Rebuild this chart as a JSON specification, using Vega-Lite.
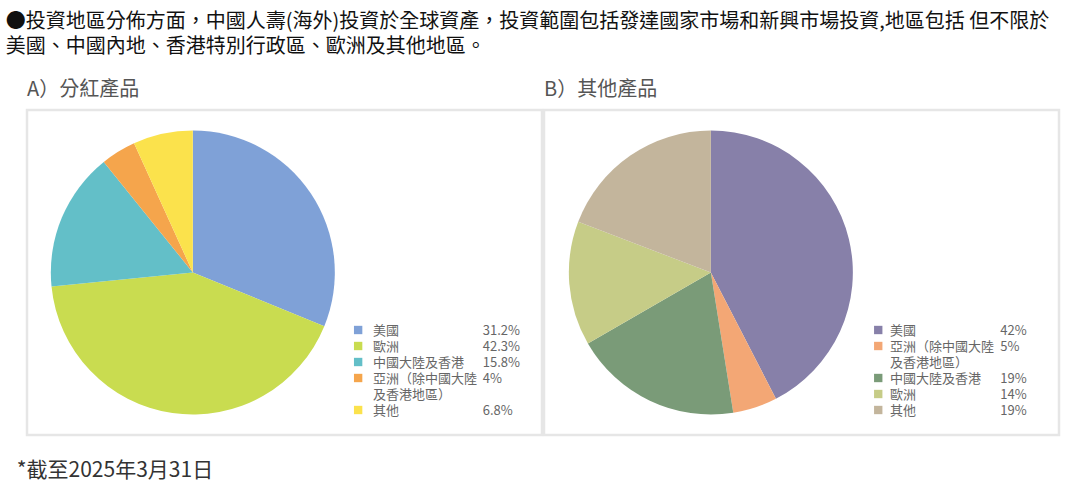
{
  "$schema": "https://vega.github.io/schema/vega-lite/v6.json",
  "padding": {"left": 5, "top": 11, "right": 5, "bottom": 5},
  "config": {
    "font": "Noto Sans CJK TC",
    "view": {"stroke": "#e6e6e6", "strokeWidth": 2.5},
    "axis": {"disable": true}
  },
  "title": {
    "text": ["●投資地區分佈方面，中國人壽(海外)投資於全球資產，投資範圍包括發達國家市場和新興市場投資,地區包括 但不限於", "美國、中國內地、香港特別行政區、歐洲及其他地區。"],
    "anchor": "start", "dx": -11, "fontSize": 20, "fontWeight": "normal", "color": "#111", "lineHeight": 25, "offset": 22
  },
  "vconcat": [
    {
      "title": {"text": "*截至2025年3月31日", "orient": "bottom", "anchor": "start", "dx": -9, "fontSize": 21, "fontWeight": "normal", "color": "#333", "offset": 24},
      "spacing": -3,
      "resolve": {"scale": {"color": "independent", "x": "independent", "y": "independent", "theta": "independent"}},
      "hconcat": [
        {
          "title": {"text": "A）分紅產品", "anchor": "start", "fontSize": 20, "fontWeight": "normal", "color": "#555", "offset": 10},
          "width": 515, "height": 325,
          "data": {"values": [
            {"region": "美國", "value": 31.2, "pct": "31.2%", "order": 1},
            {"region": "歐洲", "value": 42.3, "pct": "42.3%", "order": 2},
            {"region": "中國大陸及香港", "value": 15.8, "pct": "15.8%", "order": 3},
            {"region": "亞洲（除中國大陸\n及香港地區）", "value": 4, "pct": "4%", "order": 4},
            {"region": "其他", "value": 6.8, "pct": "6.8%", "order": 5}
          ]},
          "layer": [
            {
              "mark": {"type": "arc", "outerRadius": 142},
              "encoding": {
                "x": {"datum": 0.322, "type": "quantitative", "scale": {"domain": [0, 1]}},
                "theta": {"field": "value", "type": "quantitative", "stack": true},
                "order": {"field": "order", "type": "quantitative"},
                "color": {"field": "region", "type": "nominal", "legend": null,
                  "scale": {"domain": ["美國", "歐洲", "中國大陸及香港", "亞洲（除中國大陸\n及香港地區）", "其他"],
                            "range": ["#7fa1d7", "#c9dc50", "#63bfc8", "#f5a54c", "#fbe24c"]}}
              }
            },
            {
              "mark": {"type": "point", "shape": "square", "filled": true, "size": 70, "opacity": 1},
              "encoding": {
                "x": {"datum": 0.643, "type": "quantitative"},
                "y": {"field": "region", "type": "ordinal", "scale": {"type": "point", "padding": 0, "domain": ["美國", "歐洲", "中國大陸及香港", "亞洲（除中國大陸\n及香港地區）", "_gap", "其他"], "range": [220, 300]}},
                "color": {"field": "region", "type": "nominal", "legend": null}
              }
            },
            {
              "mark": {"type": "text", "align": "left", "baseline": "alphabetic", "dy": 5, "fontSize": 13, "color": "#666", "lineBreak": "\n", "lineHeight": 16},
              "encoding": {
                "x": {"datum": 0.672, "type": "quantitative"},
                "y": {"field": "region", "type": "ordinal"},
                "text": {"field": "region"}
              }
            },
            {
              "mark": {"type": "text", "align": "left", "baseline": "alphabetic", "dy": 5, "fontSize": 13, "color": "#666"},
              "encoding": {
                "x": {"datum": 0.885, "type": "quantitative"},
                "y": {"field": "region", "type": "ordinal"},
                "text": {"field": "pct"}
              }
            }
          ]
        },
        {
          "title": {"text": "B）其他產品", "anchor": "start", "fontSize": 20, "fontWeight": "normal", "color": "#555", "offset": 10},
          "width": 515, "height": 325,
          "data": {"values": [
            {"region": "美國", "value": 42, "pct": "42%", "order": 1},
            {"region": "亞洲（除中國大陸\n及香港地區）", "value": 5, "pct": "5%", "order": 2},
            {"region": "中國大陸及香港", "value": 19, "pct": "19%", "order": 3},
            {"region": "歐洲", "value": 14, "pct": "14%", "order": 4},
            {"region": "其他", "value": 19, "pct": "19%", "order": 5}
          ]},
          "layer": [
            {
              "mark": {"type": "arc", "outerRadius": 142},
              "encoding": {
                "x": {"datum": 0.324, "type": "quantitative", "scale": {"domain": [0, 1]}},
                "theta": {"field": "value", "type": "quantitative", "stack": true},
                "order": {"field": "order", "type": "quantitative"},
                "color": {"field": "region", "type": "nominal", "legend": null,
                  "scale": {"domain": ["美國", "亞洲（除中國大陸\n及香港地區）", "中國大陸及香港", "歐洲", "其他"],
                            "range": ["#8780a9", "#f3a775", "#7a9b78", "#c6cc87", "#c3b59c"]}}
              }
            },
            {
              "mark": {"type": "point", "shape": "square", "filled": true, "size": 70, "opacity": 1},
              "encoding": {
                "x": {"datum": 0.649, "type": "quantitative"},
                "y": {"field": "region", "type": "ordinal", "scale": {"type": "point", "padding": 0, "domain": ["美國", "亞洲（除中國大陸\n及香港地區）", "_gap", "中國大陸及香港", "歐洲", "其他"], "range": [220, 300]}},
                "color": {"field": "region", "type": "nominal", "legend": null}
              }
            },
            {
              "mark": {"type": "text", "align": "left", "baseline": "alphabetic", "dy": 5, "fontSize": 13, "color": "#666", "lineBreak": "\n", "lineHeight": 16},
              "encoding": {
                "x": {"datum": 0.672, "type": "quantitative"},
                "y": {"field": "region", "type": "ordinal"},
                "text": {"field": "region"}
              }
            },
            {
              "mark": {"type": "text", "align": "left", "baseline": "alphabetic", "dy": 5, "fontSize": 13, "color": "#666"},
              "encoding": {
                "x": {"datum": 0.886, "type": "quantitative"},
                "y": {"field": "region", "type": "ordinal"},
                "text": {"field": "pct"}
              }
            }
          ]
        }
      ]
    }
  ]
}
